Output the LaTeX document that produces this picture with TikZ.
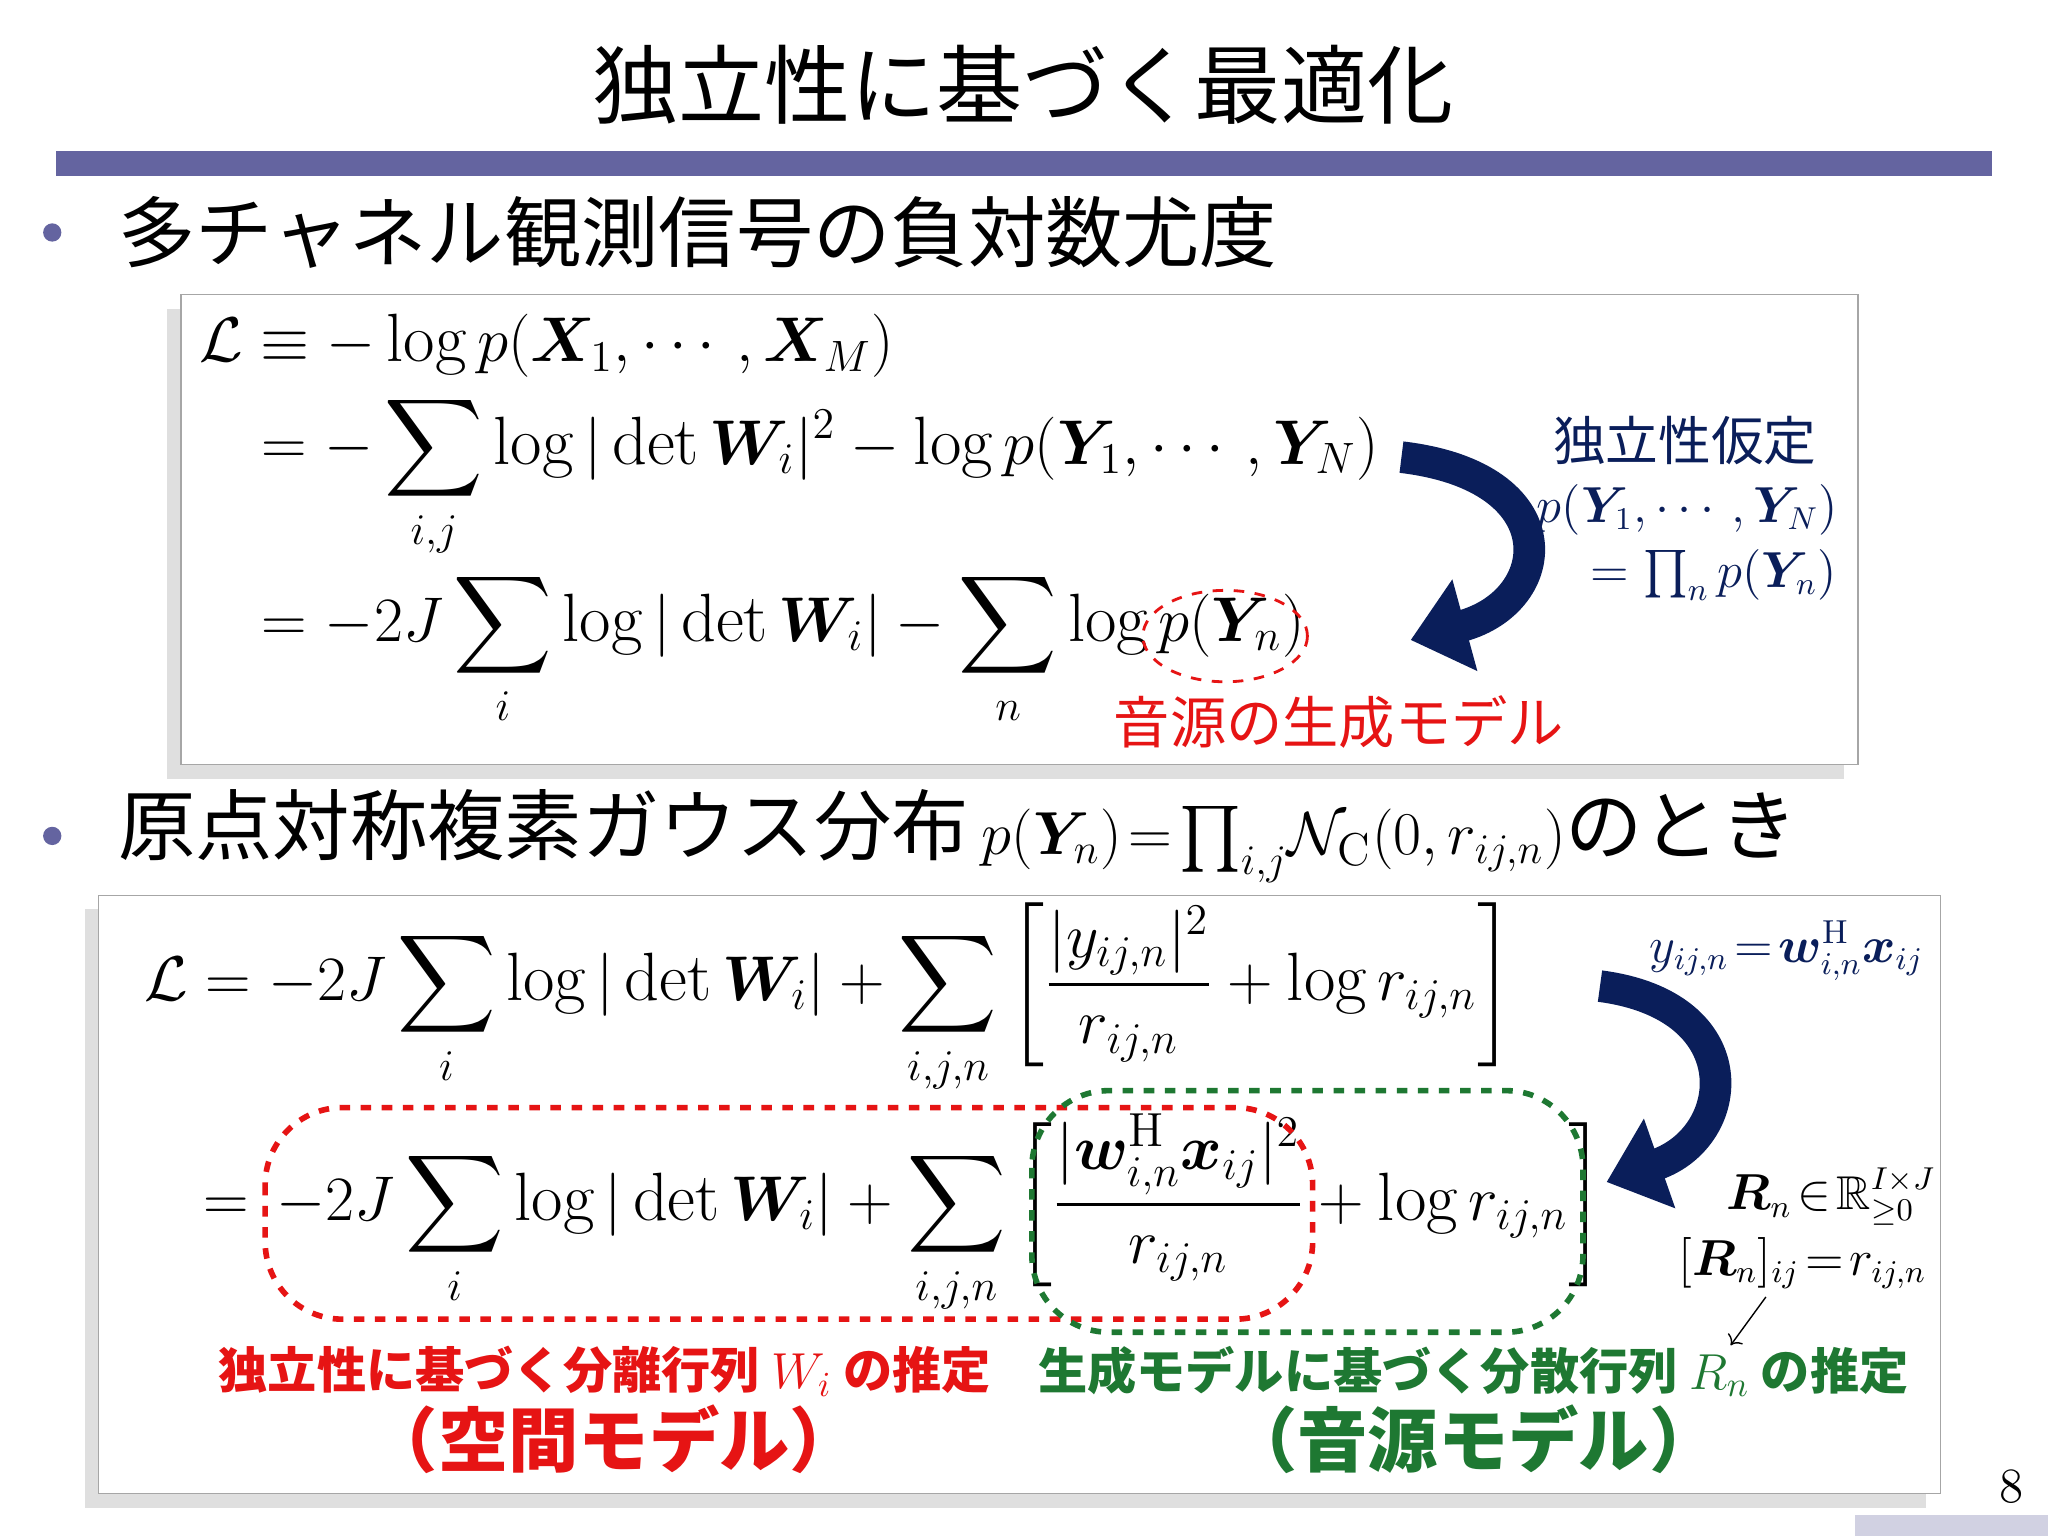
\documentclass[tikz,border=0pt]{standalone}
\usepackage{amsmath,amssymb,bm}
\usepackage{fontspec}
\newfontfamily\jp{Noto Sans CJK JP}
\usetikzlibrary{arrows.meta,shadows}
\definecolor{navy}{RGB}{10,30,90}
\definecolor{rulec}{RGB}{100,100,160}
\definecolor{redc}{RGB}{230,20,20}
\definecolor{greenc}{RGB}{30,120,50}
\newcommand{\Eq}[1]{\scalebox{1.04}{#1}}
\tikzset{
 eq/.style={anchor=west,inner sep=0,font=\fontsize{18.7}{22}\selectfont},
 box/.style={draw=gray!70,fill=white,drop shadow={shadow xshift=-4pt,shadow yshift=-4pt,fill=gray!50}},
 big/.style={->,>={Triangle[length=16pt,width=26pt]},line width=9pt,navy}
}
\begin{document}
\begin{tikzpicture}[x=0.01306cm,y=-0.01306cm]
\useasboundingbox (0,0) rectangle (1568,1176);
\node (title) at (783,65) {\jp\fontsize{24.5}{28}\selectfont 独立性に基づく最適化};
\draw[rulec,line width=7pt] (43,125) -- (1525,125);
\fill[rulec] (40,178) circle (7);
\node[anchor=west,inner sep=0] (b1) at (90,178) {\jp\fontsize{22}{26}\selectfont 多チャネル観測信号の負対数尤度};
\node[box,minimum width=1284*0.01306cm,minimum height=360*0.01306cm,anchor=north west] (box1) at (138,225) {};
\node[eq] (l1) at (152,265) {\Eq{$\mathcal{L}\equiv -\log p(\bm{X}_1,\cdots,\bm{X}_M)$}};
\node[eq] (l2) at (200,365) {\Eq{$\displaystyle = -\sum_{i,j}\log|\det\bm{W}_i|^2-\log p(\bm{Y}_1,\cdots,\bm{Y}_N)$}};
\node[eq] (l3) at (200,497) {\Eq{$\displaystyle = -2J\sum_{i}\log|\det\bm{W}_i|-\sum_{n}\log p(\bm{Y}_n)$}};
\draw[redc,dashed,thick] (938,487) ellipse (63 and 35);
\node[text=redc] (gm) at (1025,553) {\jp\fontsize{16}{19}\selectfont 音源の生成モデル};
\coordinate (a1s) at (1073,350);
\coordinate (a1e) at (1080,490);
\draw[big] (a1s) .. controls (1200,365) and (1190,460) .. (a1e);
\node[text=navy] (ind) at (1290,337) {\jp\fontsize{15}{18}\selectfont 独立性仮定};
\node[text=navy,font=\fontsize{13.5}{16}\selectfont] (p1) at (1292,390) {$p(\bm{Y}_1,\cdots,\bm{Y}_N)$};
\node[text=navy,font=\fontsize{13.5}{16}\selectfont] (p2) at (1312,440) {$=\prod_n p(\bm{Y}_n)$};
\fill[rulec] (40,640) circle (7);
\node[anchor=west,inner sep=0] (b2) at (90,640) {\jp\fontsize{22}{26}\selectfont 原点対称複素ガウス分布\,{\rmfamily\fontsize{18.7}{22}\selectfont$p(\bm{Y}_n)\!=\!\prod_{i,j}\!\mathcal{N}_{\mathrm{C}}(0,r_{ij,n})$}のとき};
\node[box,minimum width=1410*0.01306cm,minimum height=458*0.01306cm,anchor=north west] (box2) at (75,685) {};
\node[eq] (m1) at (110,765) {\Eq{$\displaystyle \mathcal{L}=-2J\sum_{i}\log|\det\bm{W}_i|+\sum_{i,j,n}\left[\frac{|y_{ij,n}|^2}{r_{ij,n}}+\log r_{ij,n}\right]$}};
\node[eq] (m2) at (155,930) {\Eq{$\displaystyle =\,-2J\sum_{i}\log|\det\bm{W}_i|+\sum_{i,j,n}\left[\frac{|\bm{w}_{i,n}^{\mathrm{H}}\bm{x}_{ij}|^2}{r_{ij,n}}+\log r_{ij,n}\right]$}};
\draw[redc,dashed,line width=1.6pt,rounded corners=22] (203,848) rectangle (1005,1010);
\draw[greenc,dashed,line width=1.6pt,rounded corners=22] (790,835) rectangle (1212,1020);
\coordinate (a2s) at (1225,755);
\coordinate (a2e) at (1230,905);
\draw[big] (a2s) .. controls (1340,770) and (1330,870) .. (a2e);
\node[text=navy,font=\fontsize{13.5}{16}\selectfont] (yy) at (1368,728) {$y_{ij,n}\!=\!\bm{w}_{i,n}^{\mathrm{H}}\bm{x}_{ij}$};
\node[font=\fontsize{13.5}{16}\selectfont] (r1) at (1402,916) {$\bm{R}_n\!\in\!\mathbb{R}_{\geq0}^{I\times J}$};
\node[font=\fontsize{13.5}{16}\selectfont] (r2) at (1380,967) {$[\bm{R}_n]_{ij}\!=\!r_{ij,n}$};
\coordinate (ra) at (1325,1030);
\draw[->,thin] (1352,993) -- (ra);
\node[text=redc] (t1) at (463,1050) {\jp\bfseries\fontsize{14}{17}\selectfont 独立性に基づく分離行列 {\rmfamily\mdseries$W_i$} の推定};
\node[text=redc] (t2) at (470,1102) {\jp\bfseries\fontsize{20}{24}\selectfont （空間モデル）};
\node[text=greenc] (t3) at (1128,1050) {\jp\bfseries\fontsize{14}{17}\selectfont 生成モデルに基づく分散行列 {\rmfamily\mdseries$R_n$} の推定};
\node[text=greenc] (t4) at (1128,1102) {\jp\bfseries\fontsize{20}{24}\selectfont （音源モデル）};
\node (pg) at (1540,1138) {\fontsize{14}{16}\selectfont 8};
\fill[rulec!30] (1420,1160) rectangle (1568,1176);
\end{tikzpicture}
\end{document}
